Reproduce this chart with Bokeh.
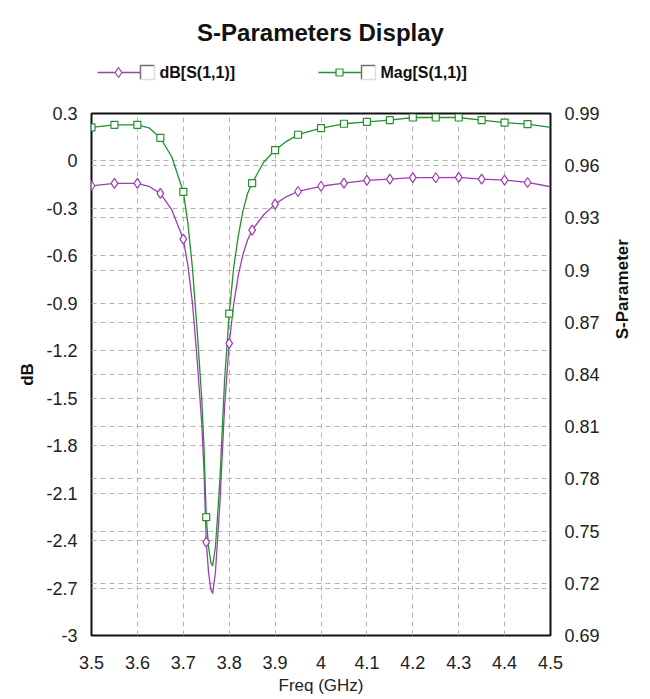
import numpy as np
from bokeh.plotting import figure
from bokeh.models import (Range1d, LinearAxis, FixedTicker, CustomJSTickFormatter,
                          Grid, ColumnDataSource)
from bokeh.layouts import column, row
from bokeh.embed import file_html
from bokeh.resources import INLINE
from bokeh.core.properties import value

# ---------------- data ----------------
freq = [3.50, 3.55, 3.60, 3.625, 3.65, 3.675, 3.70, 3.71, 3.72, 3.73, 3.74, 3.745,
        3.75, 3.755, 3.76, 3.764, 3.77, 3.775, 3.78, 3.79, 3.80, 3.81, 3.82, 3.83,
        3.84, 3.85, 3.875, 3.90, 3.925, 3.95, 4.00, 4.05, 4.10, 4.15, 4.20, 4.25,
        4.30, 4.35, 4.40, 4.45, 4.50]
db_s11 = [-0.157, -0.142, -0.142, -0.160, -0.205, -0.31, -0.494, -0.66, -0.90, -1.25,
          -1.65, -1.95, -2.41, -2.60, -2.71, -2.735, -2.60, -2.38, -2.15, -1.55, -1.153,
          -0.90, -0.72, -0.59, -0.50, -0.437, -0.34, -0.273, -0.225, -0.193, -0.160,
          -0.140, -0.123, -0.115, -0.105, -0.106, -0.104, -0.115, -0.121, -0.136, -0.163]
mag_s11 = [0.982, 0.9835, 0.9835, 0.9818, 0.976, 0.965, 0.945, 0.927, 0.901, 0.866,
           0.827, 0.799, 0.758, 0.741, 0.732, 0.730, 0.741, 0.760, 0.781, 0.837, 0.875,
           0.902, 0.920, 0.934, 0.944, 0.950, 0.962, 0.969, 0.974, 0.9778, 0.9816,
           0.9841, 0.9852, 0.9862, 0.9877, 0.9877, 0.9877, 0.9862, 0.9848, 0.9839, 0.982]

x_ticks = [3.5, 3.6, 3.7, 3.8, 3.9, 4.0, 4.1, 4.2, 4.3, 4.4, 4.5]
db_ticks = [-3.0, -2.7, -2.4, -2.1, -1.8, -1.5, -1.2, -0.9, -0.6, -0.3, 0.0, 0.3]
mag_ticks = [0.69, 0.72, 0.75, 0.78, 0.81, 0.84, 0.87, 0.90, 0.93, 0.96, 0.99]

title_text = "S-Parameters Display"
series_names = ["dB[S(1,1)]", "Mag[S(1,1)]"]
x_label = "Freq (GHz)"
left_label = "dB"
right_label = "S-Parameter"

PURPLE = "#a03cb4"
GREEN = "#23912d"
FONT = "Liberation Sans"
GRID = "#b4b4b4"

f_arr = np.array(freq)
mask = (np.abs(f_arr * 20 - np.round(f_arr * 20)) < 1e-6) & (f_arr < 4.499)
src = ColumnDataSource(dict(f=freq, db=db_s11, mag=mag_s11))
msrc = ColumnDataSource(dict(f=list(f_arr[mask]),
                             db=list(np.array(db_s11)[mask]),
                             mag=list(np.array(mag_s11)[mask])))

fmt = CustomJSTickFormatter(code="return Number(tick.toFixed(2)).toString();")

# ---------------- header (title + legend) ----------------
HW, HH = 634, 90
h = figure(width=HW, height=HH, x_range=Range1d(0, HW), y_range=Range1d(HH, 0),
           output_backend="svg", toolbar_location=None, min_border=0,
           x_axis_location=None, y_axis_location=None)
h.grid.visible = False
h.outline_line_color = None
h.text(x=[320], y=[32], text=[title_text], text_font=value(FONT), text_font_size="24px",
       text_font_style="bold", text_align="center", text_baseline="middle", text_color="#111111")

leg_y = 72
for (x0, name, col, mk) in [(97, series_names[0], PURPLE, "diamond"),
                            (318, series_names[1], GREEN, "square")]:
    h.line([x0, x0 + 43], [leg_y, leg_y], line_color=col, line_width=1.3)
    if mk == "diamond":
        h.scatter([x0 + 21], [leg_y], marker="diamond", size=10, line_color=col,
                  fill_color="white", line_width=1.2)
    else:
        h.scatter([x0 + 21], [leg_y], marker="square", size=7, line_color=col,
                  fill_color="white", line_width=1.2)
    bx = x0 + 43
    h.multi_line([[bx, bx, bx + 14], [bx, bx + 14, bx + 14]],
                 [[leg_y + 7, leg_y - 7, leg_y - 7], [leg_y + 7, leg_y + 7, leg_y - 7]],
                 line_color=["#707070", "#dddddd"], line_width=1.5)
    h.text(x=[bx + 19], y=[leg_y], text=[name], text_font=value(FONT), text_font_size="16px",
           text_font_style="bold", text_align="left", text_baseline="middle", text_color="#111111")

# ---------------- main plot ----------------
MH = 609
p = figure(width=602, height=MH, x_range=Range1d(3.5, 4.5), y_range=Range1d(-3.0, 0.3),
           output_backend="svg", toolbar_location=None,
           min_border_left=91, min_border_right=50, min_border_top=23, min_border_bottom=64)
p.extra_y_ranges = {"mag": Range1d(0.69, 0.99)}

p.xaxis.ticker = FixedTicker(ticks=x_ticks)
p.yaxis.ticker = FixedTicker(ticks=db_ticks)
p.xaxis.formatter = fmt
p.yaxis.formatter = fmt
rax = LinearAxis(y_range_name="mag", ticker=FixedTicker(ticks=mag_ticks), formatter=fmt)
p.add_layout(rax, "right")

for ax in [p.xaxis[0], p.yaxis[0], rax]:
    ax.axis_line_color = None
    ax.major_tick_line_color = None
    ax.minor_tick_line_color = None
    ax.major_label_text_font = FONT
    ax.major_label_text_font_size = "18px"
    ax.major_label_text_color = "#222222"
    ax.major_label_standoff = 8

p.xaxis.major_label_standoff = 14
p.xaxis.axis_label = x_label
p.xaxis.axis_label_text_font = FONT
p.xaxis.axis_label_text_font_size = "17px"
p.xaxis.axis_label_text_font_style = "normal"
p.xaxis.axis_label_text_color = "#222222"
p.xaxis.axis_label_standoff = 4

p.yaxis[0].axis_label = left_label
p.yaxis[0].axis_label_text_font = FONT
p.yaxis[0].axis_label_text_font_size = "17px"
p.yaxis[0].axis_label_text_font_style = "bold"
p.yaxis[0].axis_label_text_color = "#111111"
p.yaxis[0].axis_label_standoff = 6

p.xgrid.grid_line_color = GRID
p.xgrid.grid_line_dash = "5 4"
p.ygrid.grid_line_color = GRID
p.ygrid.grid_line_dash = "5 4"
rgrid = Grid(dimension=1, ticker=rax.ticker, y_range_name="mag",
             grid_line_color=GRID, grid_line_dash="5 4")
p.add_layout(rgrid)

p.outline_line_color = "#111111"
p.outline_line_width = 2

p.line("f", "db", source=src, line_color=PURPLE, line_width=1.3)
p.line("f", "mag", source=src, line_color=GREEN, line_width=1.3, y_range_name="mag")
p.scatter("f", "db", source=msrc, marker="diamond", size=10, line_color=PURPLE,
          fill_color="white", line_width=1.2)
p.scatter("f", "mag", source=msrc, marker="square", size=7, line_color=GREEN,
          fill_color="white", line_width=1.2, y_range_name="mag")

# ---------------- right-side axis title ----------------
SW = 32
s = figure(width=SW, height=MH, x_range=Range1d(0, SW), y_range=Range1d(MH, 0),
           output_backend="svg", toolbar_location=None, min_border=0,
           x_axis_location=None, y_axis_location=None)
s.grid.visible = False
s.outline_line_color = None
s.text(x=[20], y=[205], text=[right_label], angle=np.pi / 2, text_font=value(FONT),
       text_font_size="17px", text_font_style="bold", text_align="center",
       text_baseline="middle", text_color="#111111")

layout = column(h, row(p, s))
open("out.html", "w").write(file_html(layout, INLINE))
